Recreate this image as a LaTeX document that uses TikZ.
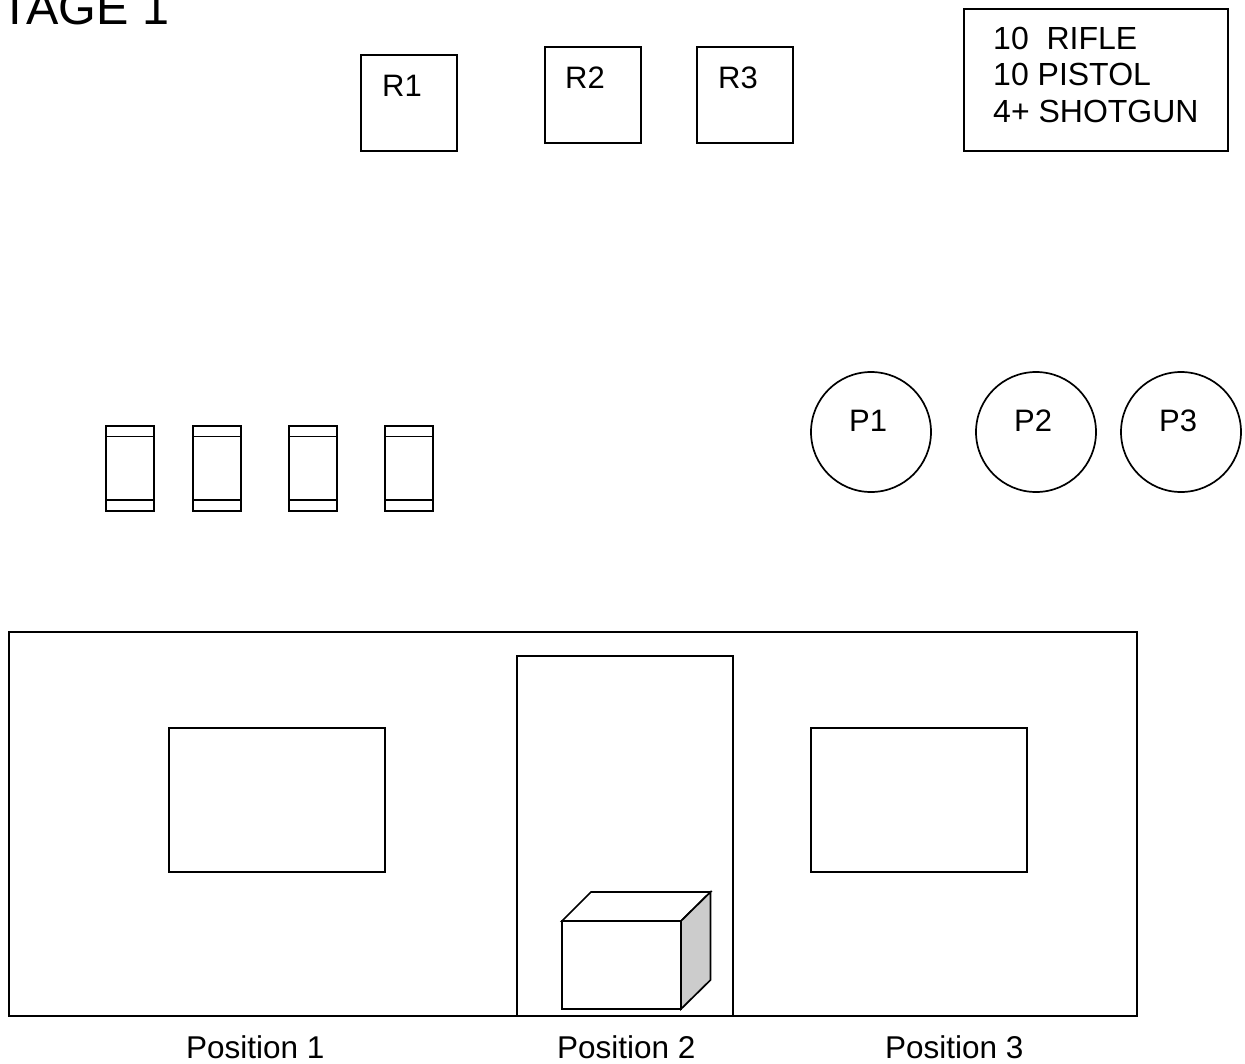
\documentclass[tikz,border=0pt]{standalone}
\usepackage{fontspec}
\setmainfont{Liberation Sans}
\newcommand{\fsz}[1]{\fontsize{#1pt}{#1pt}\selectfont}
\tikzset{
  shape line/.style={draw=black,line width=1.7pt,fill=white},
  lbl/.style={inner sep=0pt,anchor=base west,font=\fsz{31.5},text=black},
  tag/.style={inner sep=0pt,anchor=base west,font=\fsz{31},text=black},
  inv/.style={inner sep=0pt,anchor=base west,font=\fsz{32},text=black},
}
\begin{document}
\begin{tikzpicture}[x=1pt,y=-1pt]
\useasboundingbox (0,0) rectangle (1245,1063);
\clip (0,0) rectangle (1245,1063);
\node[inner sep=0pt,anchor=base west,font=\fsz{48.5}] (title) at (0,24) {TAGE 1};
% R boxes
\draw[shape line] (361,55) rectangle (457,151);
\draw[shape line] (545,47) rectangle (641,143);
\draw[shape line] (697,47) rectangle (793,143);
\node[tag] (r1) at (382,96) {R1};
\node[tag] (r2) at (565,88) {R2};
\node[tag] (r3) at (718,88) {R3};
% ammo box
\draw[shape line] (964,9) rectangle (1228,151);
\node[inv] (a1) at (993,49) {10\ \ RIFLE};
\node[inv] (a2) at (993,85) {10 PISTOL};
\node[inv] (a3) at (993,122) {4+ SHOTGUN};
% circles
\draw[shape line] (871,432) circle (60);
\draw[shape line] (1036,432) circle (60);
\draw[shape line] (1181,432) circle (60);
\node[tag] (p1) at (849,431) {P1};
\node[tag] (p2) at (1014,431) {P2};
\node[tag] (p3) at (1159,431) {P3};
% barrels
\foreach \x in {106,193,289,385}{
  \draw[shape line] (\x,426) rectangle ++(48,85);
  \draw[draw=black,line width=1.5pt] (\x,436.5) -- ++(48,0);
  \draw[draw=black,line width=1.5pt] (\x,500) -- ++(48,0);
}
% wall
\draw[shape line] (9,632) rectangle (1137,1016);
\draw[shape line] (169,728) rectangle (385,872);
\draw[shape line] (811,728) rectangle (1027,872);
\draw[shape line] (517,656) rectangle (733,1016);
% box
\draw[shape line] (562,921) rectangle (681,1009);
\draw[shape line] (562,921) -- (591,892) -- (710.5,892) -- (681,921) -- cycle;
\draw[shape line,fill={rgb,255:red,204;green,204;blue,204}] (681,921) -- (710.5,892) -- (710.5,980) -- (681,1009) -- cycle;
% labels
\node[lbl] (l1) at (186,1058) {Position 1};
\node[lbl] (l2) at (557,1058) {Position 2};
\node[lbl] (l3) at (885,1058) {Position 3};
\end{tikzpicture}
\end{document}
